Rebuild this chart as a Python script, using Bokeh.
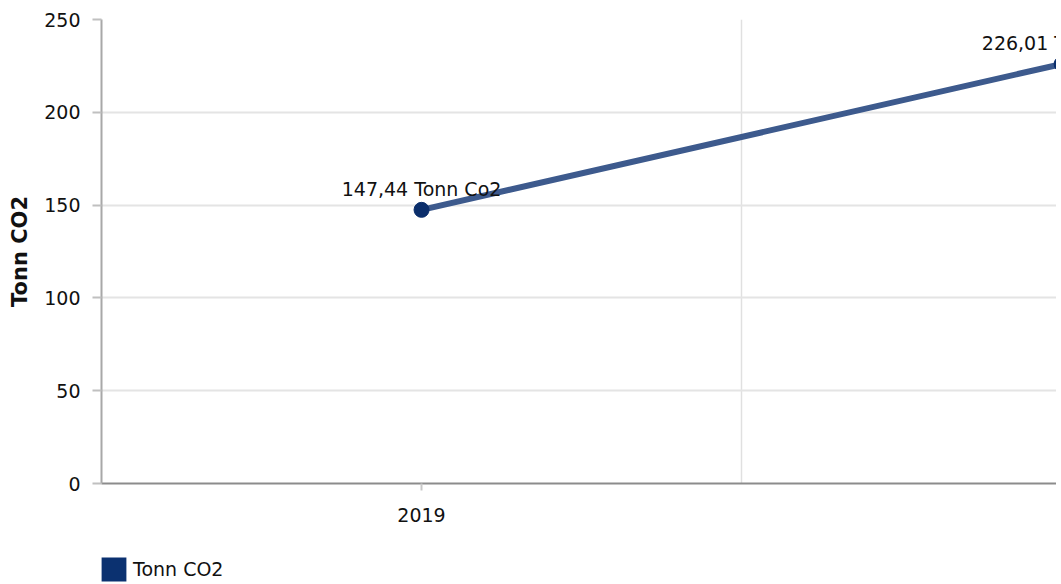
from bokeh.plotting import figure
from bokeh.layouts import column
from bokeh.models import (ColumnDataSource, FixedTicker, Range1d, Legend, LegendItem,
                          NumeralTickFormatter)
from bokeh.core.properties import value
from bokeh.embed import file_html
from bokeh.resources import INLINE

# ---- data ----
years = [2019, 2020]
tonn_co2 = [147.44, 226.01]
point_labels = ["147,44 Tonn Co2", "226,01 Tonn Co2"]
y_ticks = [0, 50, 100, 150, 200, 250]
category_edges = [2018.5, 2019.5, 2020.5]
series_name = "Tonn CO2"
y_title = "Tonn CO2"

FONT = "DejaVu Sans"
FS = "19px"
TXT = "#111111"
LINE_C = "#3d5a8d"
DOT_C = "#0b2e6b"
SWATCH_C = "#0b3170"

src = ColumnDataSource(dict(x=years, y=tonn_co2, lab=point_labels))

p = figure(width=1056, height=550, output_backend="svg", toolbar_location=None,
           x_range=Range1d(2018.5, 2019.992), y_range=Range1d(0, 250),
           min_border_left=101, min_border_right=0, min_border_top=19,
           min_border_bottom=67)
p.outline_line_color = None
p.background_fill_color = "white"
p.border_fill_color = "white"

p.line('x', 'y', source=src, line_width=6, line_color=LINE_C,
       line_cap="round", line_join="round")
p.scatter('x', 'y', source=src, size=15, fill_color=DOT_C, line_color=DOT_C)
p.text('x', 'y', text='lab', source=src, text_font=value(FONT), text_font_size=FS,
       text_align="center", text_baseline="alphabetic", y_offset=-21, text_color=TXT)

# y axis
ya = p.yaxis[0]
ya.ticker = FixedTicker(ticks=y_ticks)
ya.axis_label = y_title
ya.axis_label_text_font = FONT
ya.axis_label_text_font_size = "21px"
ya.axis_label_text_font_style = "bold"
ya.axis_label_text_color = TXT
ya.axis_label_standoff = 9
ya.axis_line_color = "#a8a8a8"
ya.axis_line_width = 2
ya.major_tick_line_color = "#c0c0c0"
ya.major_tick_line_width = 2
ya.major_tick_out = 9
ya.major_tick_in = 0
ya.minor_tick_line_color = None
ya.major_label_standoff = 12
ya.major_label_text_font = FONT
ya.major_label_text_font_size = FS
ya.major_label_text_color = TXT

# x axis
xa = p.xaxis[0]
xa.ticker = FixedTicker(ticks=years)
xa.formatter = NumeralTickFormatter(format="0")
xa.axis_line_color = "#8c8c8c"
xa.axis_line_width = 2
xa.major_tick_line_color = "#c8c8c8"
xa.major_tick_line_width = 2
xa.major_tick_out = 7
xa.major_tick_in = 0
xa.minor_tick_line_color = None
xa.major_label_standoff = 17
xa.major_label_text_font = FONT
xa.major_label_text_font_size = FS
xa.major_label_text_color = TXT

# grids
p.ygrid.ticker = FixedTicker(ticks=y_ticks)
p.ygrid.grid_line_color = "#e4e4e4"
p.ygrid.grid_line_width = 2
p.xgrid.ticker = FixedTicker(ticks=category_edges)
p.xgrid.grid_line_color = "#e0e0e0"
p.xgrid.grid_line_width = 1.5

# ---- legend strip below the chart ----
p2 = figure(width=1056, height=34, output_backend="svg", toolbar_location=None,
            x_axis_location=None, y_axis_location=None, min_border=0,
            x_range=Range1d(0, 1), y_range=Range1d(0, 1))
p2.outline_line_color = None
p2.grid.grid_line_color = None
# zero-area anchor renderer: only provides the legend swatch style
sw = p2.quad(top=[0], bottom=[0], left=[0], right=[0], fill_color=SWATCH_C,
             line_color=None)
leg = Legend(items=[LegendItem(label=series_name, renderers=[sw])],
             location=(-3, 0), glyph_width=31, glyph_height=30,
             label_standoff=4, padding=0, margin=0, border_line_color=None,
             background_fill_alpha=0, label_text_font=FONT, label_text_font_size=FS,
             label_text_color=TXT)
p2.add_layout(leg, "center")

open("out.html", "w").write(file_html(column(p, p2, spacing=0), INLINE))
